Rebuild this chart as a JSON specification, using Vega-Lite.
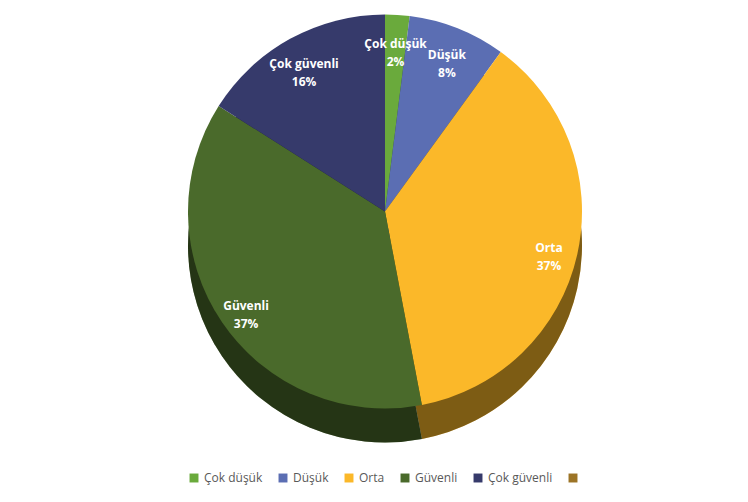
{
  "$schema": "https://vega.github.io/schema/vega-lite/v6.json",
  "width": 748,
  "height": 502,
  "autosize": {"type": "fit", "contains": "padding"},
  "padding": {"left": 22, "top": 5, "right": 0, "bottom": 18},
  "background": "#ffffff",
  "config": {
    "view": {"stroke": null},
    "legend": {"layout": {"bottom": {"anchor": "middle"}}}
  },
  "data": {
    "values": [
      {"category": "Çok düşük", "value": 2, "order": 1},
      {"category": "Düşük", "value": 8, "order": 2},
      {"category": "Orta", "value": 37, "order": 3},
      {"category": "Güvenli", "value": 37, "order": 4},
      {"category": "Çok güvenli", "value": 16, "order": 5},
      {"category": " ", "value": 0, "order": 6}
    ]
  },
  "transform": [
    {"calculate": "datum.category + '\\n' + datum.value + '%'", "as": "label"}
  ],
  "encoding": {
    "theta": {"field": "value", "type": "quantitative", "stack": true},
    "order": {"field": "order", "type": "quantitative"},
    "color": {
      "field": "category",
      "type": "nominal",
      "scale": {
        "domain": ["Çok düşük", "Düşük", "Orta", "Güvenli", "Çok güvenli", " "],
        "range": ["#6aaa3c", "#5b6eb3", "#fbb829", "#4a6a2b", "#363a6b", "#9c7426"]
      },
      "legend": {
        "title": null,
        "orient": "bottom",
        "direction": "horizontal",
        "symbolType": "square",
        "symbolSize": 80,
        "symbolStrokeWidth": 0,
        "labelFont": "Open Sans",
        "labelFontSize": 12,
        "labelColor": "#595959",
        "columnPadding": 14,
        "offset": 14
      }
    }
  },
  "layer": [
    {
      "mark": {"type": "arc", "outerRadius": 197, "yOffset": 14, "stroke": null}
    },
    {
      "mark": {"type": "arc", "outerRadius": 197, "yOffset": 14, "fill": "#000000", "fillOpacity": 0.5, "stroke": null},
      "encoding": {"color": {"value": "#000000"}}
    },
    {
      "mark": {"type": "arc", "outerRadius": 197, "yOffset": -20, "stroke": null}
    },
    {
      "transform": [{"filter": "datum.value > 0"}],
      "mark": {
        "type": "text",
        "radius": 168,
        "yOffset": -20,
        "fill": "#ffffff",
        "font": "Open Sans",
        "fontWeight": "bold",
        "fontSize": 12,
        "lineBreak": "\n",
        "lineHeight": 18
      },
      "encoding": {
        "text": {"field": "label"},
        "color": {"value": "#ffffff"}
      }
    }
  ]
}
